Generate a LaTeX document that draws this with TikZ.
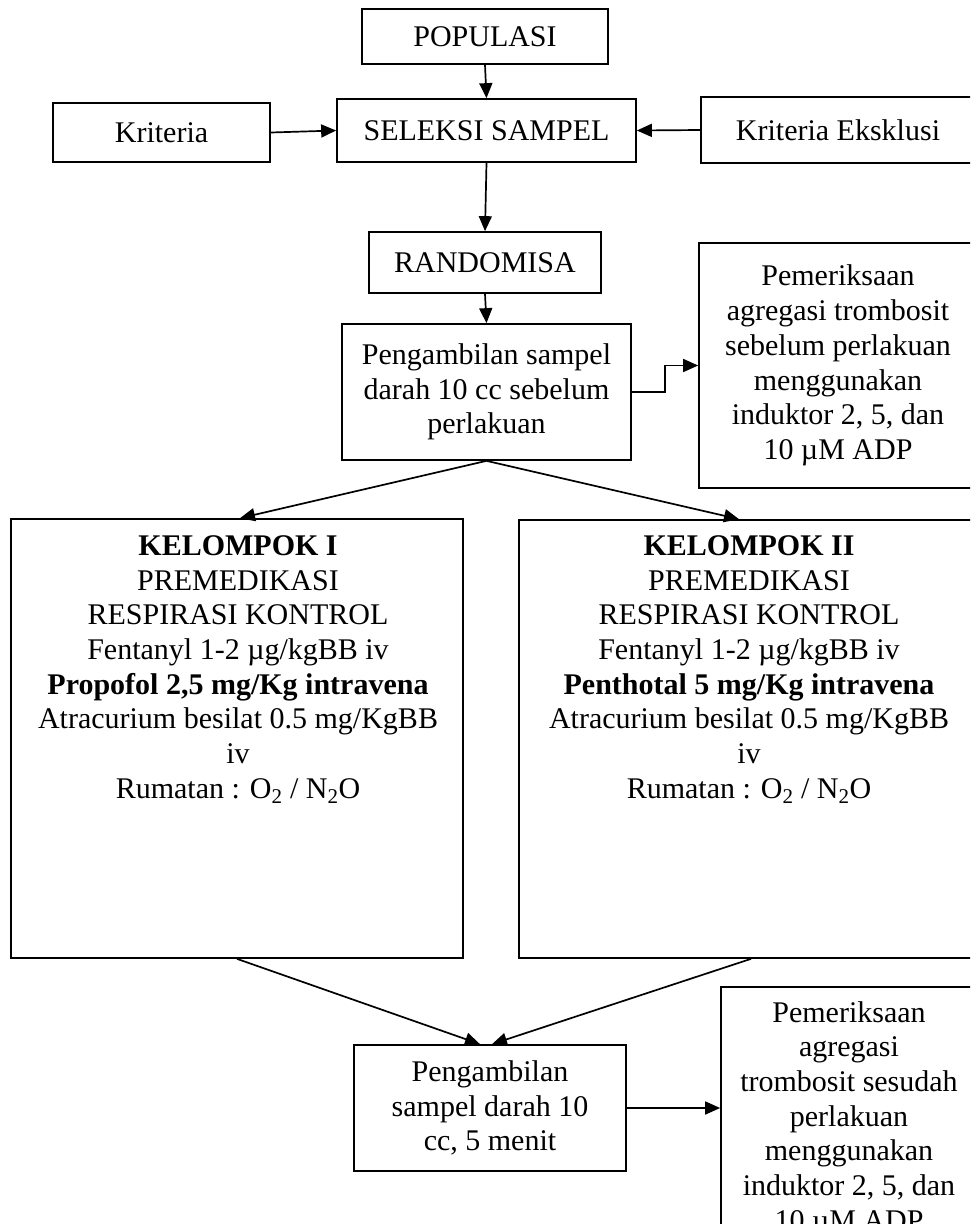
\documentclass[tikz,border=0pt]{standalone}
\usepackage{fontspec}
\setmainfont{Liberation Serif}
\usetikzlibrary{arrows.meta}
\begin{document}
\begin{tikzpicture}[x=1pt,y=-1pt,
  box/.style={draw, line width=1.7pt, inner sep=0pt, align=center},
  txt/.style={align=center, inner sep=0pt},
  conn/.style={line width=1.7pt, -{Triangle[length=15pt,width=13pt]}},
  font=\fontsize{30}{34.7}\selectfont]
\useasboundingbox (0,0) rectangle (970,1224);
\clip (0,0) rectangle (970,1224);
\fill[white] (0,0) rectangle (970,1224);

\node[box, minimum width=246, minimum height=55] (pop) at (485,36.5) {POPULASI};
\node[box, minimum width=299, minimum height=63] (sel) at (486.5,130.5) {SELEKSI SAMPEL};
\node[box, minimum width=217, minimum height=59] (kri) at (161.5,132.5) {Kriteria};
\node[box, minimum width=274, minimum height=66] (eks) at (838,130) {Kriteria Eksklusi};
\node[box, minimum width=232, minimum height=61] (rand) at (485,262.5) {RANDOMISA};
\node[box, minimum width=289, minimum height=136] (p1) at (486.5,392) {Pengambilan sampel\\darah 10 cc sebelum\\perlakuan};
\node[box, minimum width=278, minimum height=245] (r1) at (838,365.5) {Pemeriksaan\\agregasi trombosit\\sebelum perlakuan\\menggunakan\\induktor 2, 5, dan\\10 µM ADP};

\node[box, minimum width=452, minimum height=439] (k1) at (237,738.5) {};
\node[txt] (k1t) at (238,669.5) {\textbf{KELOMPOK I}\\PREMEDIKASI\\RESPIRASI KONTROL\\Fentanyl 1-2 µg/kgBB iv\\\textbf{Propofol 2,5 mg/Kg intravena}\\Atracurium besilat 0.5 mg/KgBB\\iv\\Rumatan : O\textsubscript{2} / N\textsubscript{2}O};

\node[box, minimum width=460, minimum height=438] (k2) at (749,739) {};
\node[txt] (k2t) at (749,669.5) {\textbf{KELOMPOK II}\\PREMEDIKASI\\RESPIRASI KONTROL\\Fentanyl 1-2 µg/kgBB iv\\\textbf{Penthotal 5 mg/Kg intravena}\\Atracurium besilat 0.5 mg/KgBB\\iv\\Rumatan : O\textsubscript{2} / N\textsubscript{2}O};

\node[box, minimum width=272, minimum height=126] (p2) at (490,1108) {Pengambilan\\sampel darah 10\\cc, 5 menit};
\node[box, minimum width=256, minimum height=330] (r2) at (849,1152) {};
\node[txt] (r2t) at (849,1119) {Pemeriksaan\\agregasi\\trombosit sesudah\\perlakuan\\menggunakan\\induktor 2, 5, dan\\10 µM ADP};

\draw[conn] (pop.south) -- (sel.north);
\draw[conn] (kri.east) -- (sel.west);
\draw[conn] (eks.west) -- (sel.east);
\draw[conn] (sel.south) -- (rand.north);
\draw[conn] (rand.south) -- (p1.north);
\draw[conn] (p1.east) -- ++(33,0) |- (r1.west);
\draw[conn] (p1.south) -- ([xshift=3pt]k1.north);
\draw[conn] (p1.south) -- ([xshift=-10pt]k2.north);
\draw[conn] (k1.south) -- ([xshift=-10pt]p2.north);
\draw[conn] ([xshift=2pt]k2.south) -- ([xshift=2pt]p2.north);
\draw[conn] (p2.east) -- (p2.east -| r2.west);
\end{tikzpicture}
\end{document}
